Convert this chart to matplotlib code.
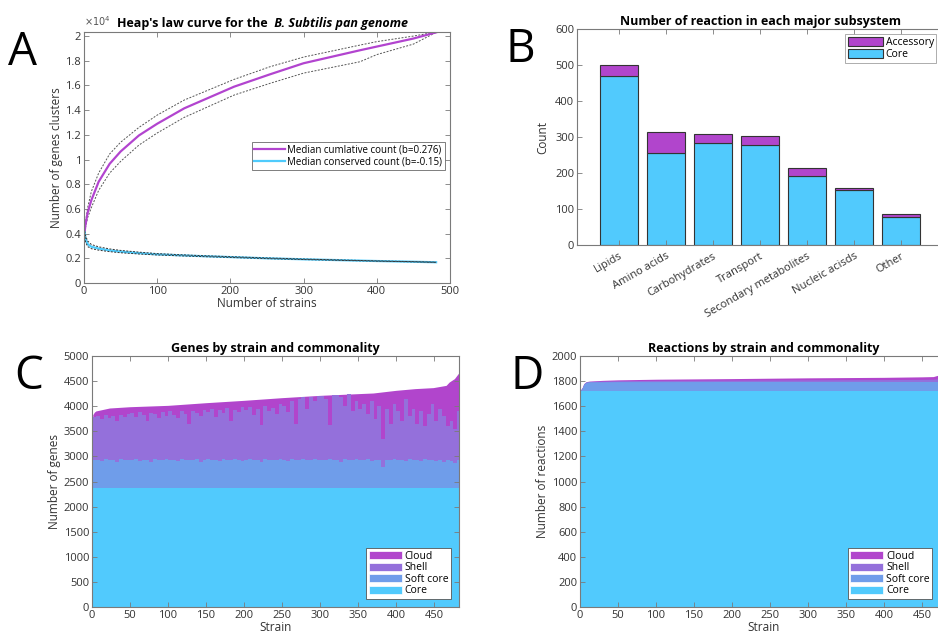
import numpy as np
import matplotlib
matplotlib.use("Agg")
import matplotlib.pyplot as plt
from matplotlib.patches import Patch

plt.rcParams["font.family"] = ["Open Sans", "DejaVu Sans"]
plt.rcParams["xtick.direction"] = "in"
plt.rcParams["ytick.direction"] = "in"

# ---- panel A : Heap's law curves ----
pan_strains = [1, 2, 5, 10, 20, 35, 50, 75, 100, 137, 205, 254, 300, 377, 400, 450, 481]
pan_median = [4200, 4700, 5700, 6700, 8200, 9650, 10650, 11950, 12900, 14150,
              15900, 16900, 17800, 18850, 19150, 19800, 20300]
pan_upper = [4200, 4900, 6100, 7400, 8900, 10450, 11400, 12600, 13600, 14820,
             16490, 17515, 18300, 19270, 19550, 20000, 20330]
pan_lower = [4200, 4500, 5300, 6100, 7500, 8900, 9850, 11170, 12150, 13415,
             15220, 16170, 17000, 17920, 18500, 19350, 20300]

core_strains = [1, 2, 5, 10, 20, 35, 50, 75, 100, 150, 200, 250, 300, 350, 400, 450, 481]
core_median = [4100, 3600, 3150, 2940, 2790, 2640, 2540, 2420, 2320, 2200,
               2100, 2000, 1920, 1850, 1780, 1720, 1680]
core_upper = [4200, 3850, 3400, 3120, 2930, 2760, 2640, 2500, 2380, 2240,
              2130, 2030, 1940, 1865, 1790, 1730, 1685]
core_lower = [4000, 3350, 2950, 2780, 2660, 2540, 2450, 2350, 2270, 2160,
              2070, 1975, 1900, 1835, 1770, 1712, 1672]
a_yticks = [0, 2000, 4000, 6000, 8000, 10000, 12000, 14000, 16000, 18000, 20000]
a_yticklabels = ["0", "0.2", "0.4", "0.6", "0.8", "1", "1.2", "1.4", "1.6", "1.8", "2"]

# ---- panel B : reactions per subsystem ----
subsystems = ["Lipids", "Amino acids", "Carbohydrates", "Transport",
              "Secondary metabolites", "Nucleic acisds", "Other"]
core_rxn = [470, 255, 284, 278, 192, 153, 77]
accessory_rxn = [30, 60, 23, 25, 23, 6, 10]

# ---- panel C : genes by strain (groups of 5 strains) ----
total_knots = [1, 3, 5, 23, 50, 100, 150, 200, 250, 300, 350, 370, 400, 425,
               449, 466, 470, 477, 483.5]
total_genes = [3830, 3880, 3905, 3964, 3990, 4017, 4070, 4117, 4170, 4216,
               4250, 4263, 4316, 4350, 4370, 4415, 4480, 4550, 4680]
shell_top = [3780, 3800, 3740, 3820, 3760, 3810, 3700, 3830, 3790, 3850,
             3860, 3780, 3880, 3820, 3700, 3870, 3840, 3760, 3890, 3810,
             3900, 3820, 3760, 3910, 3850, 3640, 3900, 3870, 3800, 3930,
             3880, 3950, 3780, 3920, 3860, 3960, 3700, 3930, 3890, 3980,
             3920, 3990, 3820, 3950, 3620, 4000, 3900, 3960, 3850, 4050,
             4000, 3880, 4100, 3650, 4150, 4180, 3950, 4190, 4100, 4200,
             4210, 4150, 3620, 4220, 4230, 4180, 4000, 4235, 3900, 4100,
             3950, 4050, 3850, 4100, 3750, 4000, 3350, 3950, 3650, 4050,
             3900, 3700, 4150, 3800, 3950, 3650, 3900, 3600, 3850, 4050,
             3700, 3950, 3800, 3600, 3700, 3550, 3900]
softcore_top = [2935, 2930, 2900, 2940, 2925, 2935, 2890, 2940, 2930, 2920,
                2935, 2940, 2910, 2935, 2930, 2880, 2940, 2935, 2925, 2940,
                2930, 2935, 2900, 2940, 2930, 2935, 2920, 2940, 2890, 2935,
                2940, 2930, 2935, 2910, 2940, 2935, 2925, 2940, 2930, 2900,
                2935, 2940, 2930, 2935, 2880, 2940, 2935, 2930, 2920, 2940,
                2935, 2910, 2940, 2930, 2935, 2940, 2925, 2935, 2940, 2930,
                2935, 2920, 2940, 2935, 2930, 2890, 2940, 2935, 2930, 2940,
                2935, 2925, 2940, 2900, 2935, 2930, 2790, 2935, 2920, 2940,
                2930, 2935, 2900, 2940, 2930, 2935, 2910, 2940, 2930, 2925,
                2900, 2935, 2880, 2930, 2900, 2870, 2930]
core_genes_knots = [0.5, 483.5]
core_genes = [2365, 2365]

# ---- panel D : reactions by strain ----
rxn_knots = [0.5, 3, 5, 8, 12, 30, 50, 100, 200, 300, 400, 450, 465, 470, 483.5]
total_rxn = [1728, 1750, 1780, 1795, 1800, 1806, 1810, 1815, 1820, 1826, 1830,
             1834, 1836, 1845, 1848]
shell_rxn = [1726, 1748, 1778, 1793, 1797, 1800, 1803, 1806, 1808, 1810, 1812,
             1814, 1815, 1818, 1818]
softcore_rxn = [1722, 1745, 1775, 1790, 1794, 1795, 1796, 1796, 1797, 1797,
                1797, 1797, 1797, 1797, 1797]
core_rxn_knots = [0.5, 483.5]
core_rxn_strain = [1718, 1718]

PURPLE = "#B244CF"
CYAN = "#4FCBFC"
CLOUD = "#B145CC"
SHELL = "#9470DB"
SOFT = "#6F9DEA"
CORE = "#51CAFD"
SPINE = "#7a7a7a"
TXT = "#333333"

W, H = 938, 634
fig = plt.figure(figsize=(W / 100, H / 100), dpi=100)


def add_axes_px(left, top, right, bottom):
    return fig.add_axes([left / W, 1 - bottom / H, (right - left) / W, (bottom - top) / H])


def style(ax):
    for s in ax.spines.values():
        s.set_color(SPINE)
        s.set_linewidth(0.8)
    ax.tick_params(labelsize=8, colors=SPINE, labelcolor=TXT, length=3.5,
                   width=0.6, top=True, right=True, pad=2)


def title(ax, text):
    ax.set_title(text, fontsize=9, fontweight="bold", pad=3)


def letter(x, y, s):
    fig.text(x / W, 1 - y / H, s, fontsize=33, ha="left", va="baseline",
             family="Open Sans")


# ----- A -----
axA = add_axes_px(84, 32, 450, 283)
for ys in (pan_upper, pan_lower):
    axA.plot(pan_strains, ys, color="#555555", ls=(0, (2, 1.5)), lw=0.7)
axA.plot(pan_strains, pan_median, color=PURPLE, lw=1.6,
         label="Median cumlative count (b=0.276)")
axA.plot(core_strains, core_median, color=CYAN, lw=1.6,
         label="Median conserved count (b=-0.15)")
for ys in (core_upper, core_lower):
    axA.plot(core_strains, ys, color="#333333", ls=(0, (2, 1.5)), lw=0.7)
axA.set_xlim(0, 500)
axA.set_ylim(0, 20330)
axA.set_yticks(a_yticks)
axA.set_yticklabels(a_yticklabels)
axA.set_xticks([0, 100, 200, 300, 400, 500])
style(axA)
axA.set_xlabel("Number of strains", fontsize=8.5, color=TXT, labelpad=0)
axA.set_ylabel("Number of genes clusters", fontsize=8.5, color=TXT, labelpad=2)
axA.text(0, 1.012, r"$\times10^4$", transform=axA.transAxes, fontsize=7,
         color="#555555", va="bottom", ha="left")
t1 = axA.text(0.09, 1.008, "Heap's law curve for the ", transform=axA.transAxes,
              fontsize=9, fontweight="bold", va="bottom", ha="left")
axA.annotate(" B. Subtilis pan genome", xy=(1, 0), xycoords=t1, va="bottom",
             ha="left", fontsize=9, fontweight="bold", style="italic")
legA = axA.legend(loc="center right", bbox_to_anchor=(0.985, 0.505), fontsize=7,
                  frameon=True, fancybox=False, edgecolor="#444444",
                  handlelength=3.2, handletextpad=0.2, borderpad=0.25,
                  labelspacing=0.1, borderaxespad=0)
legA.get_frame().set_linewidth(0.6)

# ----- B -----
axB = add_axes_px(577, 29, 943, 245)
xpos = np.arange(1, len(subsystems) + 1)
axB.bar(xpos, core_rxn, width=0.8, color=CORE, edgecolor="#333333",
        linewidth=0.8, label="Core")
axB.bar(xpos, accessory_rxn, bottom=core_rxn, width=0.8, color=CLOUD,
        edgecolor="#333333", linewidth=0.8, label="Accessory")
axB.set_xlim(0.1, 7.9)
axB.set_ylim(0, 600)
axB.set_xticks(xpos)
axB.set_xticklabels(subsystems, rotation=30, ha="right", rotation_mode="anchor")
style(axB)
axB.tick_params(axis="x", pad=4)
axB.set_ylabel("Count", fontsize=8.5, color=TXT, labelpad=4)
title(axB, "Number of reaction in each major subsystem")
h, l = axB.get_legend_handles_labels()
legB = axB.legend(h[::-1], l[::-1], loc="upper right", bbox_to_anchor=(0.982, 0.975),
                  fontsize=7.5, fancybox=False, edgecolor="#888888",
                  handlelength=3.4, handleheight=0.9, handletextpad=0.2,
                  borderpad=0.25, labelspacing=0.1, borderaxespad=0)
legB.get_frame().set_linewidth(0.6)

# ----- C -----
edges = np.arange(0.5, 5 * len(shell_top) + 1, 5)
axC = add_axes_px(92, 356, 459, 607)
axC.fill_between(total_knots, 0, total_genes, color=CLOUD, lw=0)
axC.stairs(shell_top, edges, fill=True, color=SHELL, lw=0)
axC.stairs(softcore_top, edges, fill=True, color=SOFT, lw=0)
axC.fill_between(core_genes_knots, 0, core_genes, color=CORE, lw=0)
axC.set_xlim(0, 483)
axC.set_ylim(0, 5000)
axC.set_xticks(np.arange(0, 451, 50))
axC.set_yticks(np.arange(0, 5001, 500))
style(axC)
axC.set_xlabel("Strain", fontsize=8.5, color=TXT, labelpad=0)
axC.set_ylabel("Number of genes", fontsize=8.5, color=TXT, labelpad=2)
title(axC, "Genes by strain and commonality")

# ----- D -----
axD = add_axes_px(580, 356, 947, 607)
axD.fill_between(rxn_knots, 0, total_rxn, color=CLOUD, lw=0)
axD.fill_between(rxn_knots, 0, shell_rxn, color=SHELL, lw=0)
axD.fill_between(rxn_knots, 0, softcore_rxn, color=SOFT, lw=0)
axD.fill_between(core_rxn_knots, 0, core_rxn_strain, color=CORE, lw=0)
axD.set_xlim(0, 483)
axD.set_ylim(0, 2000)
axD.set_xticks(np.arange(0, 451, 50))
axD.set_yticks(np.arange(0, 2001, 200))
style(axD)
axD.set_xlabel("Strain", fontsize=8.5, color=TXT, labelpad=0)
axD.set_ylabel("Number of reactions", fontsize=8.5, color=TXT, labelpad=2)
title(axD, "Reactions by strain and commonality")

leg_handles = [Patch(facecolor=c, edgecolor="white", lw=0.5)
               for c in (CLOUD, SHELL, SOFT, CORE)]
leg_labels = ["Cloud", "Shell", "Soft core", "Core"]
for ax, anchor in ((axC, (0.978, 0.032)), (axD, (0.96, 0.032))):
    lg = ax.legend(leg_handles, leg_labels, loc="lower right", bbox_to_anchor=anchor,
                   fontsize=7.5, fancybox=False, edgecolor="#555555", framealpha=1,
                   handlelength=3.2, handleheight=0.8, handletextpad=0.25,
                   borderpad=0.25, labelspacing=0.05, borderaxespad=0)
    lg.get_frame().set_linewidth(0.6)

letter(8, 65, "A")
letter(505, 62, "B")
letter(14, 389, "C")
letter(510, 389, "D")

fig.savefig("out.png", dpi=100)
